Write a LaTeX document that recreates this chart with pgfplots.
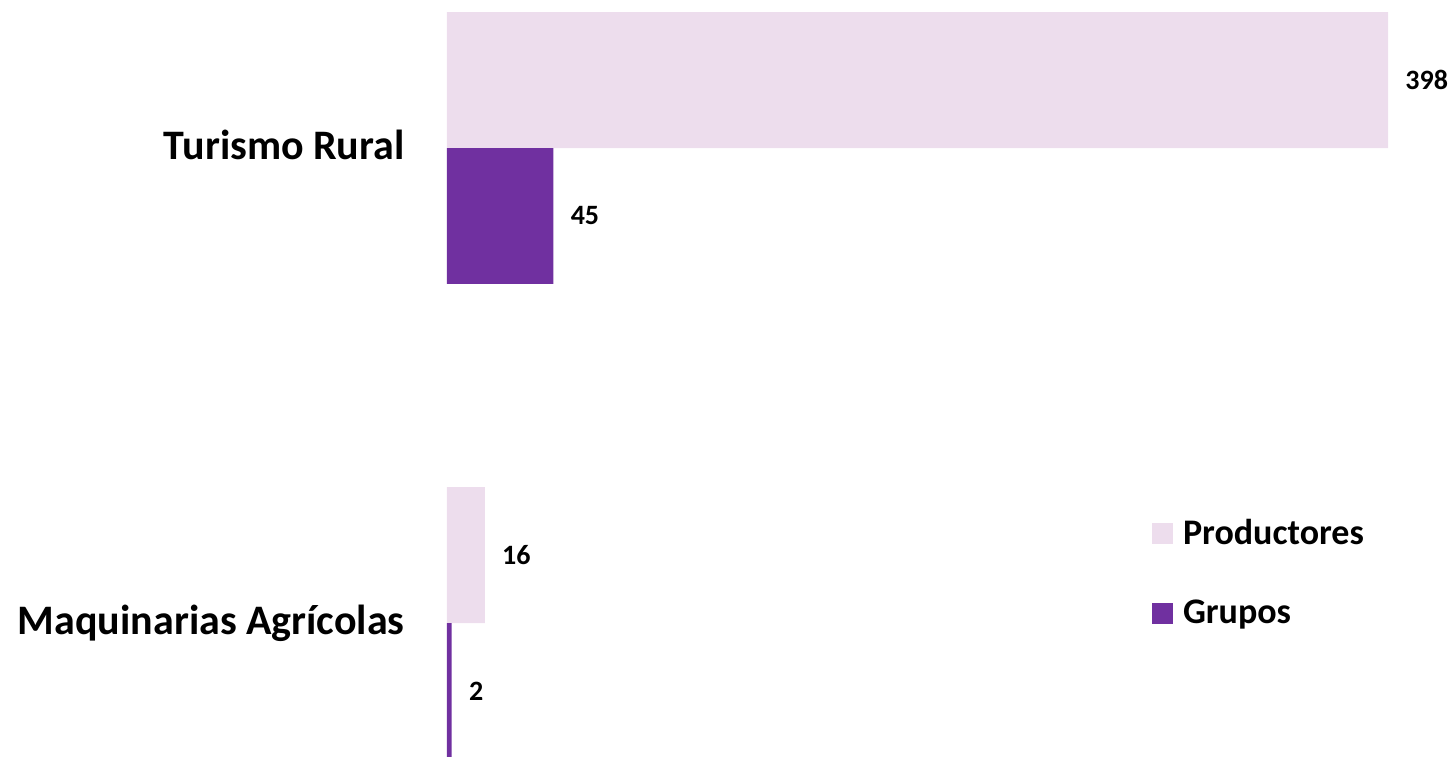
\documentclass[border=0pt]{standalone}
\usepackage{pgfplots}
\pgfplotsset{compat=1.18}
\usepackage{fontspec}
\setmainfont{Carlito}
\definecolor{prodcol}{RGB}{237,221,237}
\definecolor{grupcol}{RGB}{112,48,160}
\begin{document}
\begin{tikzpicture}
\begin{axis}[
  scale only axis,
  width=504pt, height=378pt,
  xmin=0, xmax=426.3,
  ymin=-0.28, ymax=1.3116,
  xbar, bar width=0.2863,
  axis line style={draw=none},
  major tick length=0pt,
  xtick=\empty,
  ytick={0,1},
  yticklabels={Maquinarias Agrícolas, Turismo Rural},
  yticklabel style={anchor=base east, inner sep=0pt, xshift=-21pt, yshift=-5.75pt, font=\bfseries\fontsize{21}{24}\selectfont},
  clip mode=individual,
  /pgf/number format/assume math mode=true,
  nodes near coords,
  every node near coord/.append style={anchor=west, inner sep=0pt, xshift=8.5pt, font=\bfseries\fontsize{14}{16}\selectfont, text=black},
  legend style={at={(rel axis cs:0.699,0.314)}, anchor=north west, draw=none, fill=none, inner sep=0pt,
    nodes={inner sep=0pt, anchor=west, font=\bfseries\fontsize{18}{20}\selectfont},
    row sep=26.5pt, column sep=5pt},
  legend image code/.code={\fill[#1,draw=none] (0pt,-5.25pt) rectangle (10.5pt,5.25pt);},
  legend cell align=left,
]
\addplot[fill=prodcol, draw=none, bar shift=0.14315] coordinates {(16,0) (398,1)};
\addlegendentry{Productores}
\addplot[fill=grupcol, draw=none, bar shift=-0.14315] coordinates {(2,0) (45,1)};
\addlegendentry{Grupos}
\end{axis}
\pgfresetboundingbox
\path (current axis.south west) ++(-223.5pt,0pt) rectangle (current axis.north east);
\end{tikzpicture}
\end{document}
